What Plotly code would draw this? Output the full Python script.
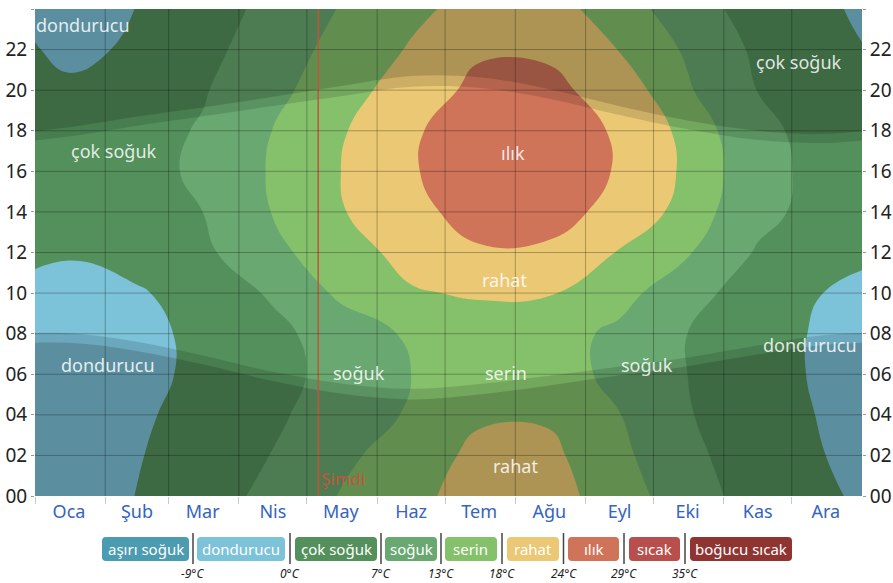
import plotly.graph_objects as go

# ---------------- data ----------------
month_names = ["Oca", "Şub", "Mar", "Nis", "May", "Haz", "Tem", "Ağu", "Eyl", "Eki", "Kas", "Ara"]
month_mid_day = [15, 45, 74, 105, 135, 166, 196, 227, 258, 288, 319, 349]
month_start_day = [0, 31, 59, 90, 120, 151, 181, 212, 243, 273, 304, 334]
hours = [0, 2, 4, 6, 8, 10, 12, 14, 16, 18, 20, 22]

# hourly temperature (°C) per month, at hours 00,02,...,22
t_oca = [-2.6, -3.3, -3.9, -4.4, -4.2, -1.6, 0.4, 2.5, 3.2, 2.4, 0.6, -0.8]
t_sub = [0.1, -0.4, -1.0, -1.7, -1.6, -0.8, 3.1, 4.8, 5.3, 4.9, 3.6, 0.5]
t_mar = [4.2, 3.2, 2.2, 1.3, 1.3, 3.1, 5.8, 7.0, 7.9, 7.5, 6.5, 5.2]
t_nis = [8.7, 7.2, 6.0, 5.1, 5.4, 7.8, 11.7, 13.2, 13.6, 13.1, 11.7, 10.2]
t_may = [13.3, 11.8, 9.9, 9.0, 9.9, 14.1, 16.0, 17.6, 18.0, 17.4, 15.8, 14.8]
t_haz = [17.0, 15.7, 13.6, 13.0, 13.8, 17.6, 19.5, 22.4, 23.6, 23.4, 20.6, 18.4]
t_tem = [19.6, 19.1, 17.4, 14.9, 15.6, 18.5, 23.4, 26.2, 26.7, 26.5, 25.6, 23.2]
t_agu = [19.7, 19.1, 17.4, 14.7, 15.1, 18.3, 23.0, 26.2, 26.8, 26.6, 25.6, 23.0]
t_eyl = [15.8, 14.3, 13.1, 12.0, 11.9, 14.9, 17.6, 22.1, 23.6, 23.4, 21.1, 17.8]
t_eki = [9.6, 8.4, 7.4, 7.0, 7.0, 9.3, 13.5, 15.9, 16.9, 16.3, 13.6, 12.3]
t_kas = [4.6, 3.9, 3.2, 2.7, 2.7, 3.9, 6.4, 8.8, 9.3, 8.6, 6.9, 5.9]
t_ara = [0.9, 0.0, -0.6, -1.1, -1.0, -0.2, 3.5, 4.6, 4.8, 4.6, 3.8, 1.2]
monthly_temps = [t_oca, t_sub, t_mar, t_nis, t_may, t_haz, t_tem, t_agu, t_eyl, t_eki, t_kas, t_ara]

# sun times (hour of day) per month
sunrise = [8.02, 7.60, 6.92, 6.12, 5.55, 5.28, 5.52, 5.92, 6.38, 6.83, 7.42, 7.93]
sunset = [17.72, 18.25, 18.72, 19.22, 19.70, 20.17, 20.12, 19.58, 18.78, 18.08, 17.55, 17.40]
dawn = [7.55, 7.15, 6.49, 5.67, 5.05, 4.76, 5.00, 5.45, 5.95, 6.40, 6.97, 7.45]
dusk = [18.17, 18.70, 19.15, 19.67, 20.20, 20.70, 20.64, 20.05, 19.21, 18.51, 18.00, 17.85]

band_names = ["aşırı soğuk", "dondurucu", "çok soğuk", "soğuk", "serin", "rahat", "ılık", "sıcak", "boğucu sıcak"]
band_limits = [-9, 0, 7, 13, 18, 24, 29, 35]
band_colors = ["#4b9bb1", "#7cc2d9", "#53905b", "#69a870", "#85c06b",
               "#ebc873", "#cf7359", "#b84f4c", "#8f3431"]

now_day = 125

label_text = ["dondurucu", "çok soğuk", "dondurucu", "soğuk", "serin", "rahat",
              "ılık", "rahat", "soğuk", "dondurucu", "çok soğuk"]
label_day = [21, 35, 32, 143, 208, 207, 211, 212, 270, 342, 337]
label_hour = [23.2, 17.0, 6.45, 6.05, 6.05, 10.65, 16.9, 1.5, 6.45, 7.45, 21.4]

# ---------------- build grid (wrap around the year) ----------------
x_days = [month_mid_day[-1] - 365] + month_mid_day + [month_mid_day[0] + 365]
cols = [monthly_temps[-1]] + monthly_temps + [monthly_temps[0]]
y_hours = hours + [24]
z = [[col[i] for col in cols] for i in range(len(hours))]
z.append(list(z[0]))

flat = [v for row in z for v in row]
zmin, zmax = min(flat), max(flat)

fig = go.Figure()

base_idx = sum(1 for lim in band_limits if lim <= zmin)
for i, lim in enumerate(band_limits):
    if zmin < lim < zmax:
        fig.add_trace(go.Contour(
            x=x_days, y=y_hours, z=z,
            contours=dict(type="constraint", operation="<", value=lim),
            fillcolor=band_colors[i + 1],
            line=dict(width=0, smoothing=1.3),
            showscale=False, hoverinfo="skip", showlegend=False,
        ))

# ---------------- night / twilight overlays ----------------
def wrap2(vals):
    return vals[-2:] + vals + vals[:2]

ov_days = [d - 365 for d in month_mid_day[-2:]] + month_mid_day + [d + 365 for d in month_mid_day[:2]]

def overlay(lower, upper, alpha):
    lo, up = wrap2(lower), wrap2(upper)
    # evening part
    fig.add_trace(go.Scatter(
        x=ov_days + ov_days[::-1], y=up + [24] * len(up), fill="toself",
        fillcolor=f"rgba(0,0,0,{alpha})", line=dict(width=0, shape="spline"),
        mode="lines", hoverinfo="skip", showlegend=False))
    # morning part
    fig.add_trace(go.Scatter(
        x=ov_days + ov_days[::-1], y=lo + [0] * len(lo), fill="toself",
        fillcolor=f"rgba(0,0,0,{alpha})", line=dict(width=0, shape="spline"),
        mode="lines", hoverinfo="skip", showlegend=False))

overlay(sunrise, sunset, 0.13)
overlay(dawn, dusk, 0.15)

# "now" line
fig.add_trace(go.Scatter(x=[now_day, now_day], y=[0, 24], mode="lines",
                         line=dict(color="#c4553b", width=1.5), yaxis="y2",
                         hoverinfo="skip", showlegend=False))

# ---------------- grid lines on top ----------------
for d in month_start_day[1:]:
    fig.add_shape(type="line", x0=d, x1=d, y0=0, y1=24, xref="x", yref="y",
                  line=dict(color="rgba(0,0,0,0.28)", width=1), layer="above")
for h in hours[1:]:
    fig.add_shape(type="line", x0=0, x1=365, y0=h, y1=h, xref="x", yref="y",
                  line=dict(color="rgba(0,0,0,0.28)", width=1), layer="above")

# ---------------- in-chart labels ----------------
for t, d, h in zip(label_text, label_day, label_hour):
    fig.add_annotation(x=d, y=h, text=t, showarrow=False,
                       font=dict(size=18, color="rgba(255,255,255,0.85)"))

fig.add_annotation(x=now_day, y=0.85, text="Şimdi", showarrow=False, xanchor="left", xshift=1,
                   font=dict(size=17, color="#c4553b"))

# ---------------- legend below ----------------
L, R, T, B = 35, 31, 9, 87
W, H = 893, 583
pw, ph = W - L - R, H - T - B

def X(px):
    return (px - L) / pw

def Y(py):
    return (H - B - py) / ph

legend_left = [102, 197, 295, 385, 445, 507, 568, 629, 690]
legend_right = [189, 285, 377, 437, 497, 559, 619, 680, 792]
box_top, box_bot, r = 537, 561, 4

for name, col, x0, x1 in zip(band_names, band_colors, legend_left, legend_right):
    y0, y1 = box_top, box_bot
    path = (f"M {X(x0 + r)},{Y(y0)} L {X(x1 - r)},{Y(y0)} Q {X(x1)},{Y(y0)} {X(x1)},{Y(y0 + r)} "
            f"L {X(x1)},{Y(y1 - r)} Q {X(x1)},{Y(y1)} {X(x1 - r)},{Y(y1)} "
            f"L {X(x0 + r)},{Y(y1)} Q {X(x0)},{Y(y1)} {X(x0)},{Y(y1 - r)} "
            f"L {X(x0)},{Y(y0 + r)} Q {X(x0)},{Y(y0)} {X(x0 + r)},{Y(y0)} Z")
    fig.add_shape(type="path", path=path, xref="paper", yref="paper",
                  fillcolor=col, line=dict(width=0))
    fig.add_annotation(x=X((x0 + x1) / 2), y=Y((y0 + y1) / 2), xref="paper", yref="paper",
                       xanchor="center", yanchor="middle",
                       text=name, showarrow=False, font=dict(size=15, color="white"))

for i, lim in enumerate(band_limits):
    sx = (legend_right[i] + legend_left[i + 1]) / 2
    fig.add_shape(type="line", x0=X(sx), x1=X(sx), y0=Y(533), y1=Y(564),
                  xref="paper", yref="paper", line=dict(color="#444", width=1.5))
    fig.add_annotation(x=X(sx), y=Y(573), xref="paper", yref="paper",
                       xanchor="center", yanchor="middle",
                       text=f"<i>{lim}°C</i>", showarrow=False,
                       font=dict(size=12, color="#222"))

# ---------------- axes / layout ----------------
hour_ticks = list(range(0, 25, 2))
hour_text = [f"{h % 24:02d}" for h in hour_ticks]

fig.update_layout(
    width=W, height=H,
    margin=dict(l=L, r=R, t=T, b=B, autoexpand=False),
    paper_bgcolor="white",
    plot_bgcolor=band_colors[base_idx],
    font=dict(family="Noto Sans, Open Sans, sans-serif"),
    showlegend=False,
    xaxis=dict(range=[0, 365], tickvals=month_mid_day, ticktext=month_names, ticks="",
               tickfont=dict(size=18, color="#3563c0"), showgrid=False, zeroline=False,
               showline=False, automargin=False, ticklabelstandoff=3,
               minor=dict(tickvals=month_start_day, ticks="outside", ticklen=7,
                          tickcolor="#c8c8c8", showgrid=False)),
    yaxis=dict(range=[0, 24], tickvals=hour_ticks, ticktext=hour_text, ticks="outside",
               ticklen=3, tickcolor="#999", tickfont=dict(size=19, color="#222"),
               showgrid=False, zeroline=False, showline=False, automargin=False),
    yaxis2=dict(range=[0, 24], overlaying="y", side="right", tickvals=hour_ticks,
                ticktext=hour_text, ticks="outside", ticklen=3, tickcolor="#999",
                tickfont=dict(size=19, color="#222"), showgrid=False, zeroline=False,
                showline=False, automargin=False),
)

fig.write_html("out.html", config={"displayModeBar": False},
               post_script="document.body.style.margin='0px';")
